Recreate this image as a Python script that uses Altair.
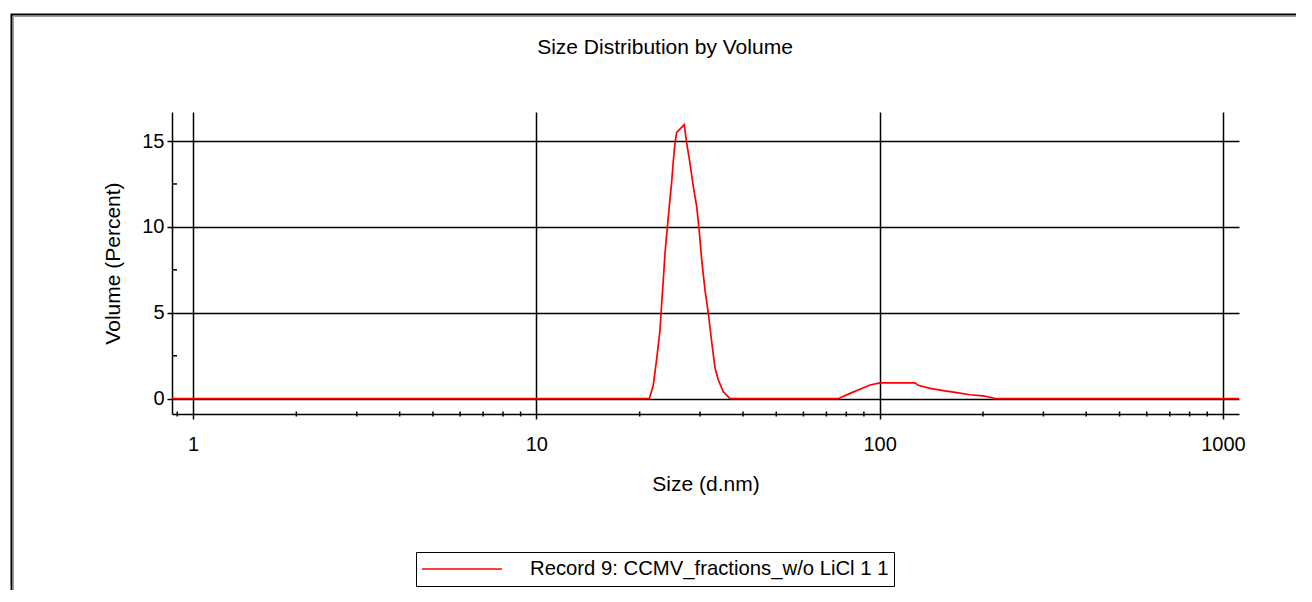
import altair as alt
import pandas as pd

# ---- data ----
sizes = [0.8687, 21.34, 21.92, 22.42, 22.93, 23.19, 23.44, 23.71, 24.07, 24.40,
         24.80, 25.06, 25.35, 25.64, 26.98, 27.42, 28.03, 28.66, 29.32, 29.78,
         30.33, 31.00, 31.70, 32.43, 33.15, 33.89, 35.05, 36.66, 75.8, 82.0,
         87.7, 93.8, 100.3, 126.8, 129.6, 140.3, 153.3, 167.8, 183.3, 200.5,
         219.3, 1114]
volumes = [0, 0, 0.8, 2.3, 4.0, 5.56, 6.92, 8.47, 9.93, 11.19,
           12.65, 13.81, 14.88, 15.5, 15.95, 14.88, 13.72, 12.36, 11.19, 9.93,
           8.08, 6.33, 4.98, 3.3, 1.8, 1.1, 0.4, 0, 0, 0.31,
           0.55, 0.8, 0.92, 0.92, 0.78, 0.6, 0.47, 0.35, 0.23, 0.16,
           0, 0]
series_name = "Record 9: CCMV_fractions_w/o LiCl 1 1"
chart_title = "Size Distribution by Volume"
x_title = "Size (d.nm)"
y_title = "Volume (Percent)"

x_major = [1, 10, 100, 1000]
x_minor = [0.9, 2, 3, 4, 5, 6, 7, 8, 9, 20, 30, 40, 50, 60, 70, 80, 90,
           200, 300, 400, 500, 600, 700, 800, 900]
y_major = [0, 5, 10, 15]
y_minor = [2.5, 7.5, 12.5]
x_domain = [0.8687, 1114]
y_domain = [-0.89, 16.69]

FONT = "Liberation Sans"

xscale = alt.Scale(type="log", domain=x_domain, nice=False)
yscale = alt.Scale(domain=y_domain, nice=False, zero=False)

common_axis = dict(
    grid=True, gridColor="black", gridWidth=1.5, gridOpacity=1,
    domainColor="black", domainWidth=1.5,
    tickColor="black", tickWidth=1.5, tickSize=5,
    labelFont=FONT, labelFontSize=20, labelColor="black",
    titleFont=FONT, titleFontSize=21, titleFontWeight="normal", titleColor="black",
)
xaxis = alt.Axis(values=x_major, format="d", labelPadding=15, title=x_title,
                 titlePadding=19, labelFlush=False, **common_axis)
yaxis = alt.Axis(values=y_major, format="d", labelPadding=3, title=y_title,
                 titlePadding=18, **common_axis)

df = pd.DataFrame({"size": sizes, "volume": volumes,
                   "series": [series_name] * len(sizes)})

line = alt.Chart(df).mark_line(strokeWidth=1.7, interpolate="linear").encode(
    x=alt.X("size:Q", scale=xscale, axis=xaxis),
    y=alt.Y("volume:Q", scale=yscale, axis=yaxis),
    color=alt.Color("series:N", scale=alt.Scale(range=["#ff0000"]),
                    legend=alt.Legend(title=None)),
)

xminor = alt.Chart(pd.DataFrame({"t": x_minor})).mark_rule(
    color="black", strokeWidth=1.5).encode(
    x=alt.X("t:Q", scale=xscale, axis=xaxis),
    y=alt.value(299.5), y2=alt.value(304.5),
)

yminor = alt.Chart(pd.DataFrame({"v": y_minor})).mark_rule(
    color="black", strokeWidth=1.5).encode(
    y=alt.Y("v:Q", scale=yscale, axis=yaxis),
    x=alt.value(0), x2=alt.value(5),
)

one = pd.DataFrame({"a": [0]})
frame = alt.Chart(one).mark_rect(filled=False, stroke="black", strokeWidth=2).encode(
    x=alt.value(-160.5), x2=alt.value(1300), y=alt.value(-97.5), y2=alt.value(700),
)
frame_shade = alt.Chart(one).mark_rect(filled=False, stroke="#9a9a9a", strokeWidth=1).encode(
    x=alt.value(-158.5), x2=alt.value(1300), y=alt.value(-95.5), y2=alt.value(700),
)

title_text = alt.Chart(one).mark_text(
    font=FONT, fontSize=21, color="black", align="center", baseline="middle").encode(
    x=alt.value(493), y=alt.value(-64), text=alt.value(chart_title),
)

chart = alt.layer(frame_shade, frame, title_text, xminor, yminor, line).properties(
    width=1067, height=302,
    autosize=alt.AutoSizeParams(type="none"),
    padding={"left": 164, "top": 104, "right": 57, "bottom": 176},
    background="white",
).configure_view(strokeWidth=0).configure_legend(
    orient="none", legendX=244, legendY=440,
    strokeColor="black", fillColor="white", padding=5,
    symbolType="stroke", symbolSize=6400, symbolStrokeWidth=1.7,
    labelFont=FONT, labelFontSize=20.3, labelColor="black", labelOffset=27,
    labelLimit=1000, clipHeight=24,
)

chart.save("out.html", embed_options={"renderer": "svg", "actions": False})
